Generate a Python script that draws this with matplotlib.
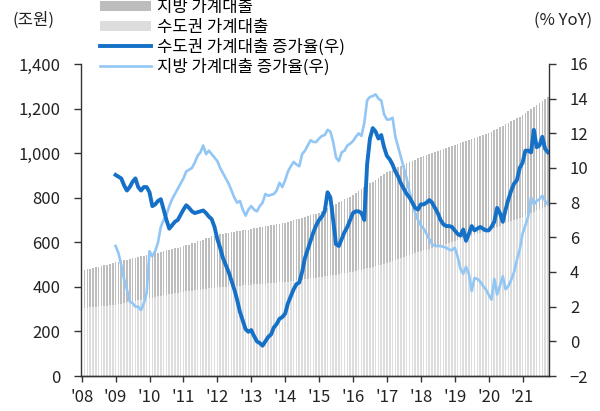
import numpy as np
import matplotlib
matplotlib.use("Agg")
import matplotlib.pyplot as plt
from matplotlib.patches import Patch
from matplotlib.lines import Line2D

plt.rcParams["font.family"] = ["Noto Sans CJK KR", "DejaVu Sans"]
plt.rcParams["font.size"] = 12

# total household loans (stack top), 2008-01 .. 2021-10, monthly (조원)
total_loans = [
    472, 475, 478, 481, 484, 488, 491, 494, 497, 500, 504, 507,
    510, 513, 516, 519, 522, 525, 528, 531, 534, 537, 540, 542,
    545, 548, 551, 554, 557, 561, 564, 567, 570, 573, 576, 579,
    582, 586, 590, 595, 599, 604, 608, 612, 617, 621, 626, 630,
    634, 636, 638, 640, 642, 644, 647, 649, 651, 653, 655, 657,
    660, 662, 664, 667, 669, 671, 674, 676, 678, 681, 683, 685,
    688, 691, 695, 699, 703, 706, 710, 714, 718, 721, 725, 729,
    733, 739, 746, 752, 759, 766, 772, 779, 786, 792, 799, 805,
    812, 820, 829, 838, 846, 855, 864, 872, 881, 889, 898, 906,
    915, 920, 926, 932, 937, 943, 949, 954, 960, 966, 971, 977,
    983, 987, 992, 996, 1000, 1005, 1009, 1013, 1018, 1022, 1026, 1031,
    1035, 1039, 1044, 1049, 1053, 1058, 1063, 1067, 1072, 1076, 1081, 1085,
    1090, 1096, 1103, 1110, 1116, 1123, 1130, 1136, 1143, 1150, 1156, 1163,
    1170, 1179, 1188, 1197, 1206, 1214, 1223, 1232, 1241, 1250,
]

# 수도권 household loans (lower stack), same months
sudo_loans = [
    305, 306, 307, 309, 310, 311, 312, 314, 315, 316, 317, 319,
    320, 322, 325, 327, 330, 332, 335, 337, 340, 342, 345, 347,
    350, 352, 355, 357, 359, 362, 364, 366, 369, 371, 373, 376,
    378, 380, 381, 383, 385, 386, 388, 390, 391, 393, 395, 396,
    398, 399, 400, 401, 402, 403, 404, 405, 406, 407, 408, 409,
    410, 411, 412, 413, 414, 415, 416, 417, 418, 419, 420, 421,
    422, 424, 426, 427, 429, 431, 433, 434, 436, 438, 440, 441,
    443, 445, 447, 449, 451, 453, 455, 458, 460, 462, 464, 466,
    468, 471, 474, 477, 480, 483, 486, 489, 493, 496, 499, 502,
    505, 510, 514, 519, 523, 528, 532, 537, 542, 546, 551, 555,
    560, 564, 567, 571, 575, 579, 582, 586, 590, 594, 597, 601,
    605, 609, 613, 617, 622, 626, 630, 634, 638, 643, 647, 651,
    655, 660, 665, 670, 675, 680, 685, 690, 695, 700, 705, 710,
    715, 721, 726, 732, 737, 743, 748, 754, 759, 765,
]

# YoY growth (%), 2009-01 .. 2021-10
sudo_growth = [
    9.6, 9.5, 9.4, 9.0, 8.7, 8.9, 9.2, 9.4, 8.9, 8.7, 8.9, 8.9,
    8.6, 7.8, 7.9, 8.1, 8.2, 7.6, 7.0, 6.5, 6.7, 6.9, 7.0, 7.3,
    7.6, 7.85, 7.7, 7.5, 7.4, 7.45, 7.5, 7.55, 7.4, 7.2, 7.05, 6.6,
    5.9, 5.4, 4.8, 4.4, 4.0, 3.5, 3.0, 2.4, 1.7, 1.2, 0.7, 0.55,
    0.65, 0.3, 0.0, -0.1, -0.25, 0.0, 0.25, 0.4, 0.8, 1.0, 1.3, 1.4,
    1.6, 2.2, 2.6, 3.0, 3.3, 3.4, 4.0, 4.8, 5.3, 5.8, 6.3, 6.7,
    7.0, 7.2, 7.5, 8.6, 8.3, 7.0, 5.6, 5.5, 5.9, 6.3, 6.6, 7.0,
    7.4, 7.5, 7.5, 7.4, 7.0, 10.2, 11.7, 12.3, 12.1, 11.7, 11.9, 11.2,
    10.7, 10.5, 10.2, 9.8, 9.5, 9.1, 8.8, 8.5, 8.3, 8.0, 7.7, 7.6,
    7.9, 7.9, 8.0, 8.15, 8.0, 7.7, 7.4, 7.0, 6.75, 6.65, 6.65, 6.6,
    6.4, 6.2, 6.1, 6.45, 5.8, 6.2, 6.65, 6.4, 6.5, 6.6, 6.5, 6.4,
    6.4, 6.6, 6.9, 7.7, 7.4, 6.9, 7.6, 8.2, 8.7, 9.1, 9.3, 10.0,
    10.3, 11.0, 11.0, 10.9, 12.2, 11.2, 11.3, 11.8, 11.1, 10.9,
]

jibang_growth = [
    5.5, 5.1, 4.4, 3.6, 3.0, 2.3, 2.2, 2.0, 2.0, 1.8, 2.2, 2.8,
    5.2, 4.9, 5.2, 5.7, 6.6, 7.0, 7.3, 7.8, 8.2, 8.5, 8.8, 9.1,
    9.4, 9.8, 9.9, 10.0, 10.3, 10.7, 10.9, 11.3, 10.8, 11.0, 10.8, 10.6,
    10.4, 10.0, 9.7, 9.4, 9.1, 8.7, 8.3, 8.0, 8.1, 7.6, 7.25, 7.6,
    7.8, 7.6, 7.5, 7.8, 8.0, 8.5, 8.4, 8.45, 8.5, 8.7, 9.15, 8.9,
    9.3, 9.8, 10.1, 10.35, 10.2, 10.1, 10.8, 11.0, 11.3, 11.6, 11.5, 11.5,
    11.7, 11.85, 11.9, 12.2, 12.1, 11.5, 10.6, 10.4, 10.9, 11.0, 11.3, 11.4,
    11.55, 11.8, 12.0, 11.85, 12.6, 13.9, 14.1, 14.15, 14.25, 14.0, 13.9, 13.1,
    12.8, 12.8, 12.9, 11.8, 11.2, 10.6, 10.0, 9.4, 8.6, 8.0, 7.4, 7.0,
    6.7, 6.5, 6.2, 5.9, 5.6, 5.5, 5.5, 5.5, 5.45, 5.4, 5.3, 5.25,
    5.4, 4.9, 4.2, 3.9, 4.3, 3.9, 2.9, 3.65, 3.6, 3.45, 3.2, 3.0,
    2.7, 2.4, 3.6, 2.7, 3.2, 3.75, 3.0, 3.2, 3.55, 4.0, 4.7, 5.3,
    6.2, 6.7, 7.2, 8.3, 7.9, 8.1, 8.2, 8.4, 8.1, 7.9,
]

years = list(range(2008, 2022))
year_labels = ["'%02d" % (y % 100) for y in years]

total = np.array(total_loans)
sudo = np.array(sudo_loans)
jibang = total - sudo
x_bar = 2008 + np.arange(len(total)) / 12.0
x_line = 2009 + np.arange(len(sudo_growth)) / 12.0

c_dark_gray = "#bdbdbd"
c_light_gray = "#dddddd"
c_blue = "#1570c8"
c_sky = "#92c6f4"
axis_c = "#333333"

fig = plt.figure(figsize=(6, 4.11), dpi=100)
ax = fig.add_axes([81 / 600, 1 - 376 / 411, 468 / 600, 312 / 411])

ax.bar(x_bar, sudo, width=0.048, color=c_light_gray, linewidth=0)
ax.bar(x_bar, jibang, bottom=sudo, width=0.048, color=c_dark_gray, linewidth=0)

ax.set_xlim(2007.98, 2021.78)
ax.set_ylim(0, 1400)
ax.set_yticks(range(0, 1401, 200))
ax.set_yticklabels(["{:,}".format(v) for v in range(0, 1401, 200)])
ax.set_xticks(years)
ax.set_xticklabels(year_labels)

ax2 = ax.twinx()
ax2.plot(x_line, jibang_growth, color=c_sky, linewidth=1.9, solid_joinstyle="round")
ax2.plot(x_line, sudo_growth, color=c_blue, linewidth=2.8, solid_joinstyle="round")
ax2.set_ylim(-2, 16)
ax2.set_yticks(range(-2, 17, 2))
ax2.set_xlim(2007.98, 2021.78)

for a in (ax, ax2):
    a.spines["top"].set_visible(False)
    for s in ("left", "right", "bottom"):
        a.spines[s].set_color(axis_c)
        a.spines[s].set_linewidth(1.0)
    a.tick_params(colors=axis_c, labelcolor="#222222", direction="out", width=1.0)
ax.tick_params(axis="y", length=5, pad=10)
ax.tick_params(axis="x", length=4, pad=5)
ax2.tick_params(axis="y", length=5, pad=10)
ax.spines["right"].set_visible(False)
ax2.spines["left"].set_visible(False)

fig.text(33 / 600, 1 - 20 / 411, "(조원)", ha="center", va="center", color="#222222")
fig.text(592 / 600, 1 - 20 / 411, "(% YoY)", ha="right", va="center", color="#222222")

handles = [
    Patch(facecolor=c_dark_gray, edgecolor="none"),
    Patch(facecolor=c_light_gray, edgecolor="none"),
    Line2D([], [], color=c_blue, linewidth=2.8),
    Line2D([], [], color=c_sky, linewidth=1.9),
]
labels = ["지방 가계대출", "수도권 가계대출", "수도권 가계대출 증가율(우)", "지방 가계대출 증가율(우)"]
fig.legend(handles, labels, loc="upper left", bbox_to_anchor=(100 / 600, 1 + 1 / 411),
           frameon=False, borderpad=0, borderaxespad=0, handlelength=3.05,
           handletextpad=0.36, labelspacing=0.17, handleheight=0.6)

fig.savefig("out.png", dpi=100)
